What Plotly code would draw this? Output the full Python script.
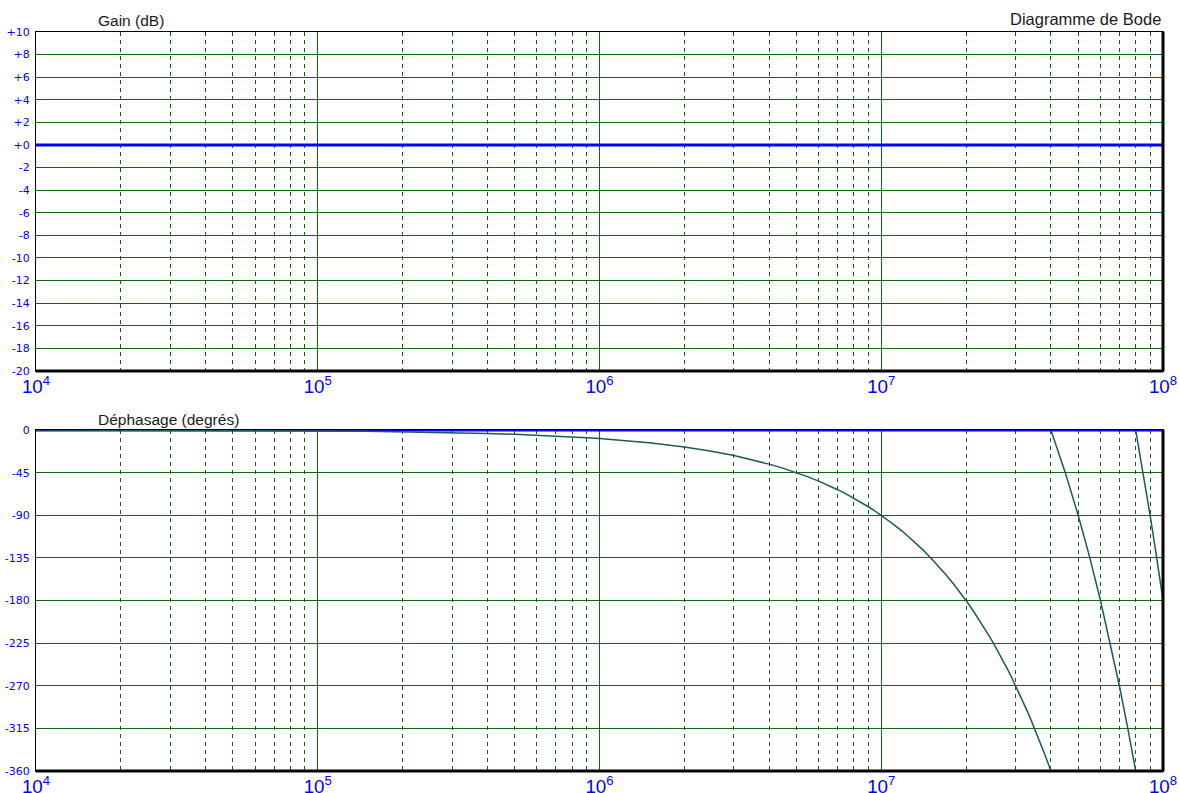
import plotly.graph_objects as go
from plotly.subplots import make_subplots

# ---- data ----
gain_freq = [1e4, 1e8]
gain_db = [0, 0]

phase_ref_freq = [1e4, 1e8]
phase_ref_deg = [0, 0]

# phase curve (wrapped every -360 deg); None separates the branches
phase_freq = [1e4, 2e4, 5e4, 1e5, 1.5e5, 2e5, 3e5, 4e5, 5e5, 6e5, 7e5, 8e5, 9e5,
              1e6, 1.5e6, 2e6, 2.5e6, 3e6, 3.5e6, 4e6, 4.5e6, 5e6, 5.5e6, 6e6, 6.5e6,
              7e6, 7.5e6, 8e6, 8.5e6, 9e6, 9.5e6,
              1e7, 1.1e7, 1.2e7, 1.3e7, 1.4e7, 1.5e7, 1.6e7, 1.7e7, 1.8e7, 1.9e7,
              2e7, 2.1e7, 2.2e7, 2.3e7, 2.4e7, 2.5e7, 2.6e7, 2.7e7, 2.8e7, 2.9e7,
              3e7, 3.1e7, 3.2e7, 3.3e7, 3.4e7, 3.5e7, 3.6e7, 3.7e7, 3.8e7, 3.9e7, 4e7, None,
              4e7, 4.5e7, 5e7, 5.5e7, 6e7, 6.5e7, 7e7, 7.5e7, 8e7, None,
              8e7, 8.5e7, 9e7, 9.5e7, 1e8]
phase_deg = [-0.09, -0.18, -0.45, -0.9, -1.35, -1.8, -2.7, -3.6, -4.5, -5.4, -6.3, -7.2, -8.1,
             -9, -13.5, -18, -22.5, -27, -31.5, -36, -40.5, -45, -49.5, -54, -58.5,
             -63, -67.5, -72, -76.5, -81, -85.5,
             -90, -99, -108, -117, -126, -135, -144, -153, -162, -171,
             -180, -189, -198, -207, -216, -225, -234, -243, -252, -261,
             -270, -279, -288, -297, -306, -315, -324, -333, -342, -351, -360, None,
             0, -45, -90, -135, -180, -225, -270, -315, -360, None,
             0, -45, -90, -135, -180]

gain_ticks = list(range(-20, 11, 2))
gain_ticktext = [("+" + str(v)) if v >= 0 else str(v) for v in gain_ticks]
phase_ticks = list(range(-360, 1, 45))
phase_ticktext = [str(v) for v in phase_ticks]

GRID = "#0e660e"
BLUE = "#0000ff"
FONT = "Liberation Sans, Arial, sans-serif"
YFONT = "DejaVu Sans, sans-serif"

fig = make_subplots(rows=2, cols=1, shared_xaxes=False, vertical_spacing=0.08)

fig.add_trace(go.Scatter(x=gain_freq, y=gain_db, mode="lines",
                         line=dict(color=BLUE, width=3), showlegend=False,
                         hoverinfo="skip"), row=1, col=1)
fig.add_trace(go.Scatter(x=phase_ref_freq, y=phase_ref_deg, mode="lines",
                         line=dict(color=BLUE, width=3), showlegend=False,
                         hoverinfo="skip", cliponaxis=False), row=2, col=1)
fig.add_trace(go.Scatter(x=phase_freq, y=phase_deg, mode="lines",
                         line=dict(color="#1d5a5a", width=1.5), showlegend=False,
                         connectgaps=False), row=2, col=1)

xcommon = dict(type="log", range=[4, 8], dtick=1, exponentformat="power",
               showgrid=True, gridcolor=GRID, gridwidth=1,
               minor=dict(dtick="D1", showgrid=True, gridcolor=GRID,
                          griddash="4px,4px", gridwidth=1, ticks=""),
               ticks="", tickfont=dict(family=FONT, size=15, color=BLUE),
               showline=True, linecolor="black", linewidth=1, mirror=True,
               zeroline=False, ticklabelstandoff=-1, automargin=False,
               layer="below traces")

fig.update_xaxes(**xcommon)

ycommon = dict(showgrid=True, gridcolor=GRID, gridwidth=1, zeroline=False,
               ticks="", tickfont=dict(family=YFONT, size=11, color=BLUE),
               showline=True, linecolor="black", linewidth=1, mirror=True,
               ticklabelstandoff=3, automargin=False, layer="below traces")
fig.update_yaxes(**ycommon)
fig.update_yaxes(range=[-20, 10], tickmode="array", tickvals=gain_ticks,
                 ticktext=gain_ticktext, row=1, col=1)
fig.update_yaxes(range=[-360, 0], tickmode="array", tickvals=phase_ticks,
                 ticktext=phase_ticktext, row=2, col=1)

fig.update_layout(
    xaxis=dict(domain=[0, 1]), xaxis2=dict(domain=[0, 1]),
    yaxis=dict(domain=[0.5413, 1.0]),
    yaxis2=dict(domain=[0.0, 0.4614]),
)

# thick bottom/right frame edges
for xr, yr in (("x domain", "y domain"), ("x2 domain", "y2 domain")):
    fig.add_shape(type="line", xref=xr, yref=yr, x0=0, x1=1, y0=0, y1=0,
                  line=dict(color="black", width=3))
    fig.add_shape(type="line", xref=xr, yref=yr, x0=1, x1=1, y0=0, y1=1,
                  line=dict(color="black", width=3))

title_font = dict(family=FONT, size=15.5, color="#1a1a1a")
fig.add_annotation(text="Gain (dB)", xref="paper", yref="paper", x=0.053, y=1.0162,
                   xanchor="left", yanchor="middle", showarrow=False, font=title_font)
fig.add_annotation(text="Déphasage (degrés)", xref="paper", yref="paper", x=0.053, y=0.475,
                   xanchor="left", yanchor="middle", showarrow=False, font=title_font)
fig.add_annotation(text="Diagramme de Bode", xref="paper", yref="paper", x=1.0, y=1.0176,
                   xanchor="right", yanchor="middle", showarrow=False,
                   font=dict(family=FONT, size=16.5, color="#1a1a1a"))

fig.update_layout(width=1179, height=793,
                  margin=dict(l=36, r=16, t=32, b=22, autoexpand=False),
                  paper_bgcolor="white", plot_bgcolor="white",
                  font=dict(family=FONT), showlegend=False)

fig.write_html("out.html", config={"displayModeBar": False},
               post_script="document.body.style.margin='0';"
                           "document.body.style.overflow='hidden';")
